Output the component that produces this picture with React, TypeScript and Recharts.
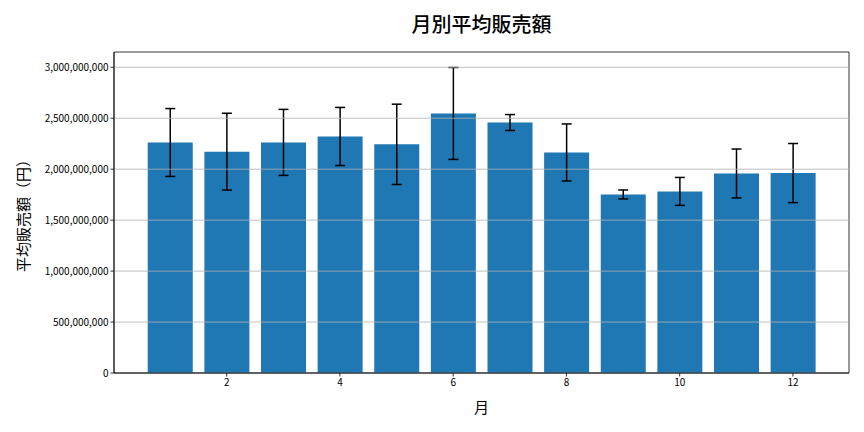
import React from "react";
import {
  BarChart,
  Bar,
  XAxis,
  YAxis,
  ErrorBar,
  ReferenceLine,
  ReferenceArea,
} from "recharts";

const months = [1, 2, 3, 4, 5, 6, 7, 8, 9, 10, 11, 12];
const avgSales = [
  2262e6, 2172e6, 2263e6, 2321e6, 2244e6, 2547e6, 2458e6, 2164e6, 1752e6, 1782e6, 1958e6, 1962e6,
];
const salesError = [
  333e6, 377e6, 324e6, 285e6, 394e6, 451e6, 78e6, 280e6, 44e6, 137e6, 240e6, 290e6,
];
const yTicks = [0, 5e8, 1e9, 1.5e9, 2e9, 2.5e9, 3e9];
const xTicks = [2, 4, 6, 8, 10, 12];
const xDomain = [0.01, 12.99];
const yMax = 3.15e9;

const FONT = '"Noto Sans CJK JP", "Noto Sans", sans-serif';

const data = months.map((m, i) => ({ month: m, sales: avgSales[i], err: salesError[i] }));

export default function App() {
  return (
    <div style={{ position: "absolute", left: 0, top: 0, width: 864, height: 432, background: "#fff", fontFamily: FONT }}>
      <div style={{ position: "absolute", left: 114, width: 735, top: 9, textAlign: "center", fontSize: 20, fontWeight: 500, color: "#000" }}>
        月別平均販売額
      </div>
      <div
        style={{
          position: "absolute",
          left: 22,
          top: 212,
          transform: "translate(-50%, -50%) rotate(-90deg)",
          whiteSpace: "nowrap",
          fontSize: 15,
          color: "#000",
        }}
      >
        平均販売額（円）
      </div>
      <div style={{ position: "absolute", left: 114, width: 735, top: 396, textAlign: "center", fontSize: 15, color: "#000" }}>
        月
      </div>
      <BarChart
        width={864}
        height={432}
        data={data}
        margin={{ top: 52, right: 15, bottom: 0, left: 0 }}
        barSize={45}
      >
        <XAxis
          dataKey="month"
          type="number"
          domain={xDomain}
          ticks={xTicks}
          allowDataOverflow
          height={59}
          tick={{ fontSize: 10, fill: "#000", fontFamily: FONT }}
          tickSize={3.5}
          tickLine={{ stroke: "#000", strokeWidth: 0.8 }}
          axisLine={{ stroke: "#000", strokeWidth: 0.8 }}
          interval={0}
        />
        <YAxis
          width={114}
          domain={[0, yMax]}
          ticks={yTicks}
          allowDataOverflow
          tickFormatter={(v) => Number(v).toLocaleString("en-US")}
          tick={{ fontSize: 10, fill: "#000", fontFamily: FONT }}
          tickSize={3.5}
          tickLine={{ stroke: "#000", strokeWidth: 0.8 }}
          axisLine={{ stroke: "#000", strokeWidth: 0.8 }}
        />
        <Bar dataKey="sales" fill="#1f77b4" isAnimationActive={false}>
          <ErrorBar dataKey="err" width={5} stroke="#000" strokeWidth={1.5} direction="y" />
        </Bar>
        {yTicks.map((v) => (
          <ReferenceLine key={v} y={v} stroke="#b0b0b0" strokeWidth={0.8} ifOverflow="visible" />
        ))}
        <ReferenceArea
          x1={xDomain[0]}
          x2={xDomain[1]}
          y1={0}
          y2={yMax}
          fill="none"
          fillOpacity={0}
          stroke="#000"
          strokeWidth={0.8}
          ifOverflow="visible"
        />
      </BarChart>
    </div>
  );
}
